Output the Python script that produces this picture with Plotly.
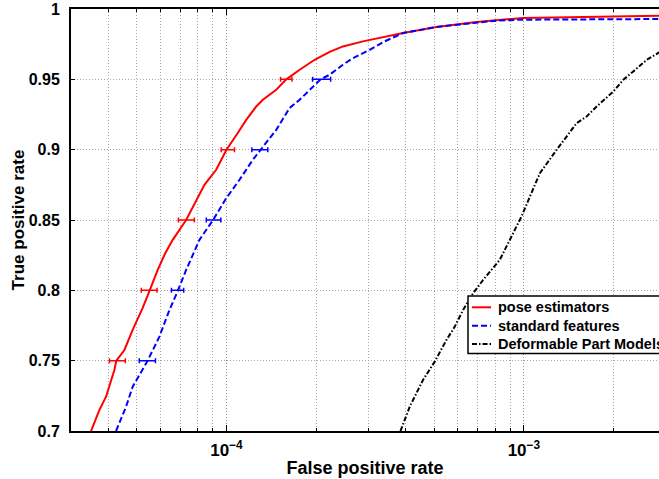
import plotly.graph_objects as go
import numpy as np

# ---------------- data ----------------
pose_fpr = [3.503e-5, 3.736e-5, 3.935e-5, 4.197e-5, 4.262e-5, 4.536e-5, 4.836e-5, 5.226e-5,
            5.518e-5, 5.871e-5, 6.23e-5, 6.595e-5, 7.316e-5, 8.43e-5, 9.23e-5, 1.0e-4,
            1.091e-4, 1.165e-4, 1.259e-4, 1.325e-4, 1.47e-4, 1.589e-4, 1.762e-4, 1.979e-4,
            2.223e-4, 2.464e-4, 2.876e-4, 3.924e-4, 5.083e-4, 6.93e-4, 9.94e-4, 2.0e-3, 3.0e-3]
pose_tpr = [0.700, 0.7149, 0.7244, 0.7434, 0.750, 0.7576, 0.7719, 0.7875,
            0.800, 0.8145, 0.8266, 0.8359, 0.850, 0.875, 0.8857, 0.900,
            0.9118, 0.9212, 0.9307, 0.9355, 0.9426, 0.950, 0.9568, 0.9639,
            0.9695, 0.9734, 0.9770, 0.9829, 0.9872, 0.9908, 0.9936, 0.9947, 0.9952]

std_fpr = [4.252e-5, 4.595e-5, 4.836e-5, 5.43e-5, 5.949e-5, 6.43e-5, 6.87e-5, 7.316e-5,
           8.11e-5, 9.01e-5, 9.98e-5, 1.106e-4, 1.226e-4, 1.302e-4, 1.47e-4, 1.63e-4,
           1.762e-4, 2.073e-4, 2.223e-4, 2.464e-4, 2.663e-4, 3.03e-4, 3.404e-4, 3.924e-4,
           5.083e-4, 6.93e-4, 8.3e-4, 9.94e-4, 3.0e-3]
std_tpr = [0.700, 0.7173, 0.7315, 0.750, 0.7671, 0.7861, 0.800, 0.8145,
           0.8359, 0.850, 0.8655, 0.8786, 0.8928, 0.900, 0.9141, 0.9296,
           0.9355, 0.950, 0.9533, 0.9604, 0.9651, 0.9710, 0.9770, 0.9829,
           0.9872, 0.9903, 0.9919, 0.9924, 0.9929]

dpm_fpr = [3.846e-4, 4.133e-4, 4.58e-4, 5.015e-4, 5.49e-4, 5.857e-4, 6.246e-4, 6.752e-4,
           7.295e-4, 7.88e-4, 8.3e-4, 8.97e-4, 9.82e-4, 1.048e-3, 1.132e-3, 1.29e-3,
           1.393e-3, 1.505e-3, 1.626e-3, 1.757e-3, 2.0e-3, 2.16e-3, 2.333e-3, 2.589e-3,
           2.85e-3, 3.0e-3]
dpm_tpr = [0.700, 0.7173, 0.7363, 0.7493, 0.7647, 0.7742, 0.7861, 0.7980,
           0.8074, 0.8157, 0.8217, 0.8359, 0.8525, 0.8667, 0.8833, 0.900,
           0.9094, 0.9189, 0.9236, 0.9307, 0.9414, 0.9497, 0.9556, 0.9639,
           0.9691, 0.9720]

# error bars (horizontal) at fixed TPR levels
err_tpr = [0.75, 0.80, 0.85, 0.90, 0.95]
pose_err_mid = [4.26e-5, 5.52e-5, 7.32e-5, 1.0e-4, 1.59e-4]
pose_err_lo = [4.04e-5, 5.17e-5, 6.89e-5, 9.6e-5, 1.52e-4]
pose_err_hi = [4.57e-5, 5.84e-5, 7.8e-5, 1.064e-4, 1.66e-4]
std_err_mid = [5.43e-5, 6.87e-5, 9.01e-5, 1.302e-4, 2.07e-4]
std_err_lo = [5.09e-5, 6.53e-5, 8.55e-5, 1.217e-4, 1.948e-4]
std_err_hi = [5.77e-5, 7.18e-5, 9.57e-5, 1.377e-4, 2.24e-4]

series_names = ["pose estimators", "standard features", "Deformable Part Models"]

# axis ticks
x_major = [1e-4, 1e-3]
x_major_text = ["10<sup>−4</sup>", "10<sup>−3</sup>"]
x_minor = [3e-5, 4e-5, 5e-5, 6e-5, 7e-5, 8e-5, 9e-5,
           2e-4, 3e-4, 4e-4, 5e-4, 6e-4, 7e-4, 8e-4, 9e-4,
           2e-3]
y_ticks = [0.7, 0.75, 0.8, 0.85, 0.9, 0.95, 1.0]
y_tick_text = ["0.7", "0.75", "0.8", "0.85", "0.9", "0.95", "1"]

FONT = "Liberation Sans, Arial, Helvetica, sans-serif"
RED = "#ff0000"
BLUE = "#0000ff"
BLACK = "#000000"
STYLES = [dict(color=RED, width=2),
          dict(color=BLUE, width=2, dash="6px,3px"),
          dict(color=BLACK, width=2, dash="5px,2px,1.5px,2px")]

W, H = 659, 479
ML, MR, MT, MB = 71, 0, 9, 48
PW, PH = W - ML - MR, H - MT - MB


def px(x):
    return (x - ML) / PW


def py(y):
    return 1 - (y - MT) / PH


fig = go.Figure()

for xs, ys, name, st in zip([pose_fpr, std_fpr, dpm_fpr], [pose_tpr, std_tpr, dpm_tpr],
                            series_names, STYLES):
    fig.add_trace(go.Scatter(x=xs, y=ys, mode="lines", name=name, line=st,
                             showlegend=False))

for mid, lo, hi, col in [(pose_err_mid, pose_err_lo, pose_err_hi, RED),
                         (std_err_mid, std_err_lo, std_err_hi, BLUE)]:
    fig.add_trace(go.Scatter(
        x=mid, y=err_tpr, mode="markers", showlegend=False, hoverinfo="skip",
        marker=dict(size=1, color=col),
        error_x=dict(type="data", symmetric=False,
                     array=[h - m for h, m in zip(hi, mid)],
                     arrayminus=[m - l for m, l in zip(mid, lo)],
                     color=col, thickness=1.5, width=2.5)))

# legend box (drawn like the MATLAB legend, clipped at the right edge)
shapes = [dict(type="rect", xref="paper", yref="paper",
               x0=px(468), x1=px(720), y0=py(353.5), y1=py(296),
               line=dict(color="black", width=1.5), fillcolor="white", layer="above")]
annotations = []
row_y = [307.3, 325.7, 344.0]
for name, st, ry in zip(series_names, STYLES, row_y):
    shapes.append(dict(type="line", xref="paper", yref="paper",
                       x0=px(472), x1=px(491), y0=py(ry), y1=py(ry),
                       line=st, layer="above"))
    annotations.append(dict(text="<b>%s</b>" % name, xref="paper", yref="paper",
                            x=px(496), y=py(ry), xanchor="left", yanchor="middle",
                            showarrow=False,
                            font=dict(family=FONT, size=14.5, color="black")))

fig.update_layout(
    width=W, height=H,
    margin=dict(l=ML, r=MR, t=MT, b=MB, autoexpand=False),
    paper_bgcolor="white", plot_bgcolor="white",
    font=dict(family=FONT, color="black"),
    showlegend=False,
    shapes=shapes, annotations=annotations,
)

GRID = "#a8a8a8"
fig.update_xaxes(
    type="log", range=[np.log10(3e-5), np.log10(2.847e-3)],
    tickvals=x_major, ticktext=x_major_text, tickmode="array",
    tickfont=dict(family=FONT, size=17, color="black", weight="bold"),
    ticks="inside", ticklen=6, tickwidth=1, tickcolor="black", ticklabelstandoff=3,
    showgrid=True, gridcolor="#909090", griddash="1px,2px", gridwidth=1,
    minor=dict(tickvals=x_minor, ticks="inside", ticklen=3, tickcolor="black",
               showgrid=True, gridcolor=GRID, griddash="1px,2px", gridwidth=1),
    showline=True, linecolor="black", linewidth=2, mirror="ticks",
    zeroline=False,
    title=dict(text="<b>False positive rate</b>",
               font=dict(family=FONT, size=18, color="black"), standoff=2),
)

fig.update_yaxes(
    range=[0.7, 1.0], tickvals=y_ticks, ticktext=y_tick_text, tickmode="array",
    tickfont=dict(family=FONT, size=16, color="black", weight="bold"),
    ticks="inside", ticklen=4, tickwidth=1, tickcolor="black", ticklabelstandoff=6,
    showgrid=True, gridcolor=GRID, griddash="1px,2px", gridwidth=1,
    showline=True, linecolor="black", linewidth=2, mirror=False,
    zeroline=False,
    title=dict(text="<b>True positive rate</b>",
               font=dict(family=FONT, size=17, color="black"), standoff=0),
)

fig.write_html("out.html")
